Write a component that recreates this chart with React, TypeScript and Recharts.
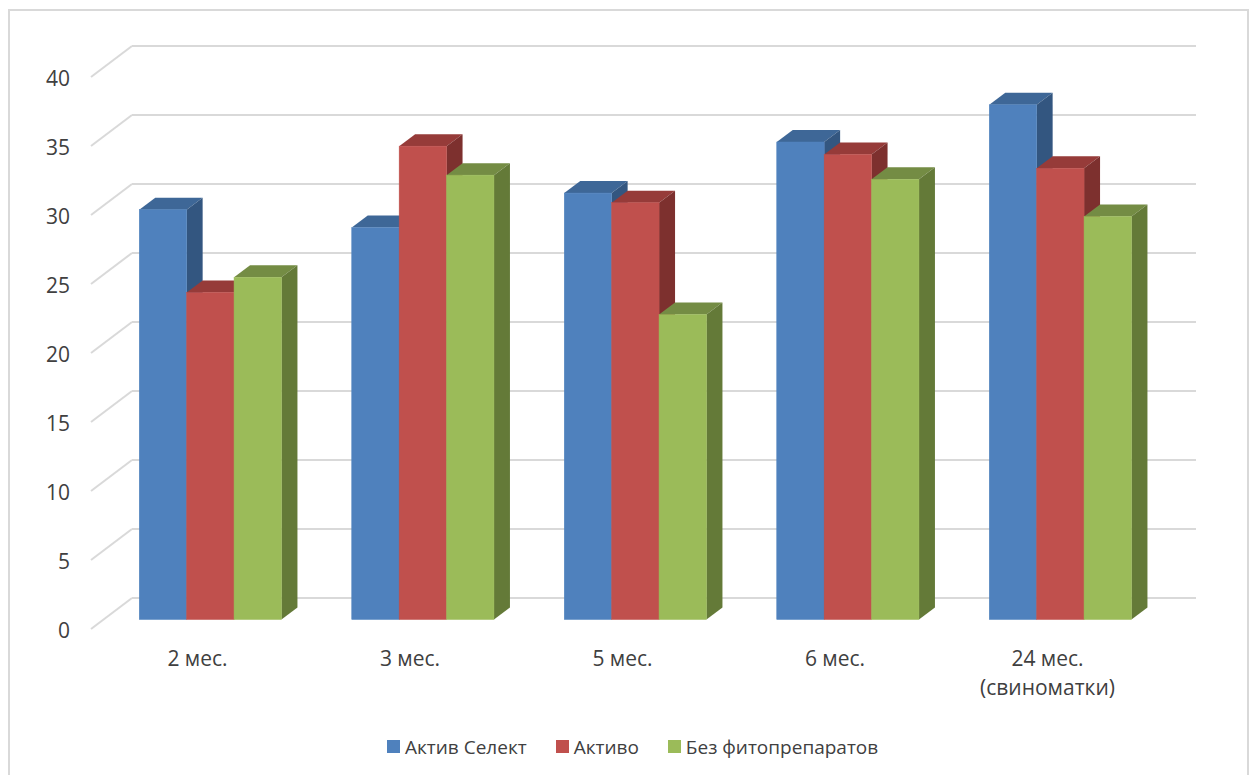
import { Bar, BarChart, CartesianGrid, Legend, XAxis, YAxis } from "recharts";

const categories = ["2 мес.", "3 мес.", "5 мес.", "6 мес.", "24 мес.\n(свиноматки)"];
const aktivSelekt = [29.7, 28.4, 30.9, 34.6, 37.3];
const aktivo = [23.7, 34.3, 30.2, 33.7, 32.7];
const bezFito = [24.8, 32.2, 22.1, 31.9, 29.2];
const yTicks = [0, 5, 10, 15, 20, 25, 30, 35, 40];

const data = categories.map((name, i) => ({
	name,
	"Актив Селект": aktivSelekt[i],
	Активо: aktivo[i],
	"Без фитопрепаратов": bezFito[i],
}));

const FONT = '"Open Sans", "Noto Sans", sans-serif';
const TEXT = "#404040";
const GRID = "#d9d9d9";

// box depth of the bars
const DX = 16;
const DY = 12;

// grid line: a diagonal on the floor/side wall plus the long run on the back wall
function GridLine(props: any) {
	const { y1 } = props;
	const backY = y1 - 21.5;
	return (
		<g stroke={GRID} strokeWidth={2} fill="none">
			<line x1={91} y1={y1 + 9.5} x2={132} y2={backY} />
			<line x1={132} y1={backY} x2={1196} y2={backY} />
		</g>
	);
}

function Box3D(props: any) {
	const { x, y, width, height, fill, topFill, sideFill } = props;
	const r = x + width;
	const b = y + height;
	return (
		<g>
			<polygon
				points={`${x},${y} ${x + DX},${y - DY} ${r + DX},${y - DY} ${r},${y}`}
				fill={topFill}
			/>
			<polygon
				points={`${r},${y} ${r + DX},${y - DY} ${r + DX},${b - DY} ${r},${b}`}
				fill={sideFill}
			/>
			{/* thin stroke closes the hairline seam between neighbouring bars */}
			<rect x={x} y={y} width={width} height={height} fill={fill} stroke={fill} strokeWidth={0.5} />
		</g>
	);
}

function CategoryTick(props: any) {
	const { x, y, payload } = props;
	const lines = String(payload.value).split("\n");
	return (
		<text x={x - 13} y={y} textAnchor="middle" fontFamily={FONT} fontSize={21} fill={TEXT}>
			{lines.map((line, i) => (
				<tspan key={line} x={x - 13} dy={i === 0 ? 38 : 29}>
					{line}
				</tspan>
			))}
		</text>
	);
}

function ValueTick(props: any) {
	const { y, payload } = props;
	return (
		<text x={70} y={y + 18} textAnchor="end" fontFamily={FONT} fontSize={21} fill={TEXT}>
			{payload.value}
		</text>
	);
}

function LegendContent(props: any) {
	const { payload } = props;
	return (
		<div style={{ display: "flex", fontFamily: FONT, fontSize: 19, color: TEXT }}>
			{payload.map((item: any) => (
				<div key={item.value} style={{ display: "flex", alignItems: "center", marginRight: 29 }}>
					<span style={{ width: 13, height: 13, background: item.color, marginRight: 5 }} />
					{item.value}
				</div>
			))}
		</div>
	);
}

export default function App() {
	return (
		<div
			style={{
				position: "absolute",
				left: 0,
				top: 0,
				width: 1250,
				height: 775,
				overflow: "hidden",
				background: "#fff",
			}}
		>
			<div
				style={{
					position: "absolute",
					left: 8,
					top: 9,
					width: 1237,
					height: 800,
					border: `2px solid ${GRID}`,
				}}
			/>
			<BarChart
				width={1250}
				height={775}
				data={data}
				margin={{ top: 67.5, right: 83.25, bottom: 55.5, left: 0 }}
				barSize={47.4}
				barGap={0}
				style={{ position: "absolute", left: 0, top: 0 }}
			>
				<CartesianGrid vertical={false} horizontal={(p: any) => <GridLine key={p.y1} {...p} />} />
				<XAxis dataKey="name" axisLine={false} tickLine={false} height={60} tick={<CategoryTick />} interval={0} />
				<YAxis
					domain={[0, 40]}
					ticks={yTicks}
					width={104.25}
					axisLine={false}
					tickLine={false}
					tick={<ValueTick />}
				/>
				<Legend
					height={40}
					content={<LegendContent />}
					wrapperStyle={{ left: 387, bottom: 1.5, width: 600 }}
				/>
				<Bar
					dataKey="Актив Селект"
					fill="#4f81bd"
					isAnimationActive={false}
					shape={<Box3D topFill="#3e6797" sideFill="#335680" />}
				/>
				<Bar
					dataKey="Активо"
					fill="#c0504d"
					isAnimationActive={false}
					shape={<Box3D topFill="#963b39" sideFill="#7d302e" />}
				/>
				<Bar
					dataKey="Без фитопрепаратов"
					fill="#9bbb59"
					isAnimationActive={false}
					shape={<Box3D topFill="#748c44" sideFill="#647a38" />}
				/>
			</BarChart>
		</div>
	);
}
